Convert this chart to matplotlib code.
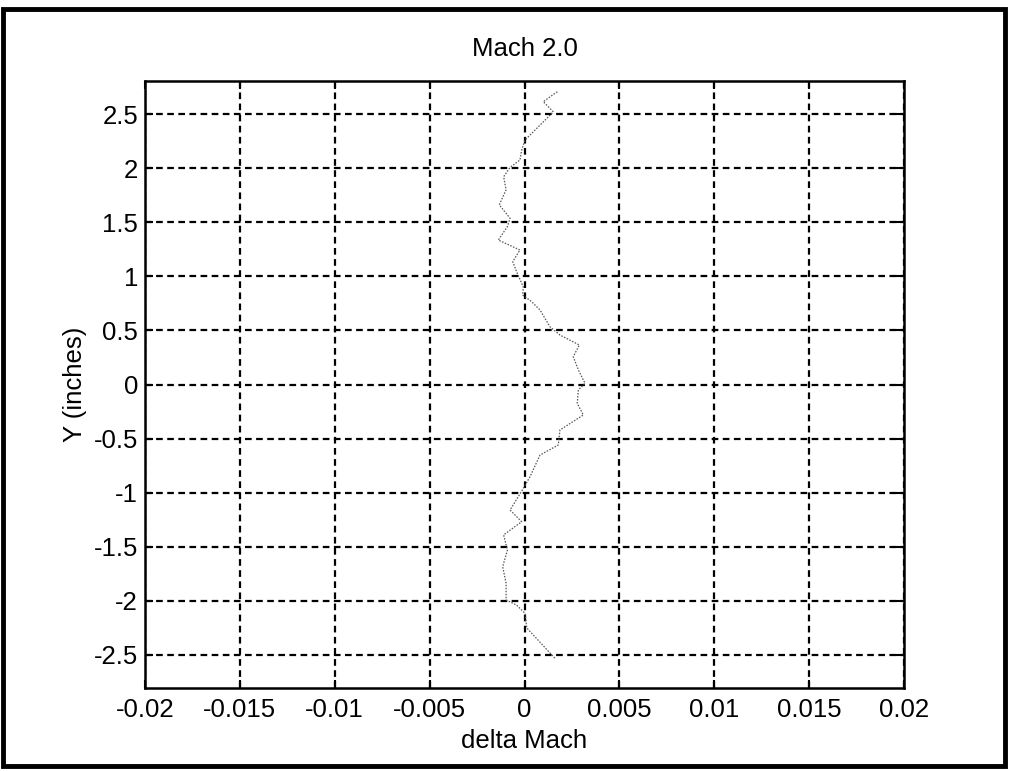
import matplotlib
matplotlib.use("Agg")
import matplotlib.pyplot as plt
from matplotlib.patches import Rectangle

delta_mach = [0.00173, 0.00099, 0.00152, 0.00003, -0.00015, -0.00024, -0.00076, -0.0011,
              -0.00097, -0.00133, -0.00076, -0.0009, -0.00138, -0.00024, -0.00062, -0.00041,
              -0.00006, -0.0001, 0.00038, 0.00082, 0.00134, 0.00187, 0.00289, 0.00257,
              0.00284, 0.00319, 0.00284, 0.00278, 0.0031, 0.00187, 0.00178, 0.00082,
              0.00029, -0.00006, -0.00076, -0.00015, -0.0011, -0.0009, -0.00115, -0.00097,
              -0.00097, -0.00041, 0.00003, 0.00012, 0.0016]
y_inches = [2.706, 2.614, 2.52, 2.26, 2.167, 2.075, 2.007, 1.92,
            1.80, 1.66, 1.536, 1.46, 1.335, 1.243, 1.135, 1.04,
            0.90, 0.827, 0.765, 0.688, 0.534, 0.457, 0.365, 0.257,
            0.134, 0.011, -0.05, -0.174, -0.282, -0.42, -0.559, -0.652,
            -0.852, -0.96, -1.16, -1.268, -1.39, -1.53, -1.684, -1.837,
            -1.99, -2.04, -2.115, -2.25, -2.53]

xticks = [-0.02, -0.015, -0.01, -0.005, 0, 0.005, 0.01, 0.015, 0.02]
xticklabels = ["-0.02", "-0.015", "-0.01", "-0.005", "0", "0.005", "0.01", "0.015", "0.02"]
yticks = [-2.5, -2, -1.5, -1, -0.5, 0, 0.5, 1, 1.5, 2, 2.5]
yticklabels = ["-2.5", "-2", "-1.5", "-1", "-0.5", "0", "0.5", "1", "1.5", "2", "2.5"]

plt.rcParams['font.family'] = ['Liberation Sans', 'DejaVu Sans']
plt.rcParams['axes.unicode_minus'] = False

fig = plt.figure(figsize=(10.09, 7.71), dpi=100)
ax = fig.add_axes([145/1009, 1 - 688/771, (904-145)/1009, (688-81)/771])

ax.plot(delta_mach, y_inches, color='#555555', linewidth=0.9, linestyle=(0, (1.2, 1.2)))

ax.set_xlim(-0.02, 0.02)
ax.set_ylim(-2.805, 2.805)
ax.set_xticks(xticks)
ax.set_xticklabels(xticklabels)
ax.set_yticks(yticks)
ax.set_yticklabels(yticklabels)
ax.grid(True, color='black', linestyle=(0, (3, 2)), linewidth=1.6)
ax.tick_params(direction='in', length=6, width=1.5, labelsize=18.5, pad=7,
               top=True, right=True, colors='black')
ax.tick_params(axis='y', pad=5)
for s in ax.spines.values():
    s.set_linewidth(1.8)
    s.set_color('black')

ax.set_title("Mach 2.0", fontsize=18.5, pad=18)
ax.set_xlabel("delta Mach", fontsize=18.5, labelpad=5)
ax.set_ylabel("Y (inches)", fontsize=18.5, labelpad=5)

fig.patches.append(Rectangle((3/1009, 1 - 766/771), 1002/1009, (766-9)/771,
                             transform=fig.transFigure, fill=False,
                             edgecolor='black', linewidth=3.5))

fig.savefig("out.png", dpi=100)
